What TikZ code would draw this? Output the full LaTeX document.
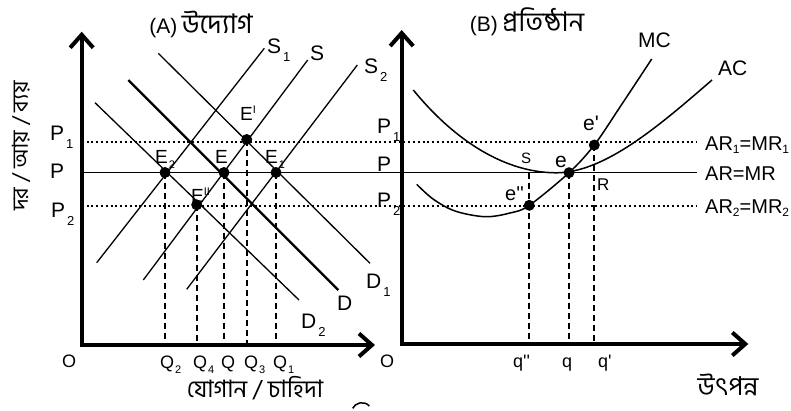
\documentclass[tikz,border=0pt]{standalone}
\usepackage{fontspec}
\setmainfont{Liberation Sans}
\newfontfamily\bn[Script=Bengali]{Hind Siliguri}
\usetikzlibrary{arrows.meta}
\newcommand\fs[1]{\fontsize{#1}{#1}\selectfont}
\newcommand\dsub[1]{\hspace{2pt}\raisebox{-8pt}{\fs{13}#1}}
\newcommand\esub[1]{\hspace{1pt}\raisebox{-5pt}{\fs{11}#1}}
\newcommand\asub[1]{\raisebox{-3pt}{\fs{12}#1}}
\newcommand\sq{\textquotesingle}
\tikzset{
  axis/.style={line width=4pt, {Straight Barb[length=13pt,width=23pt]}-{Straight Barb[length=13pt,width=23pt]}},
  ln/.style={line width=1.3pt},
  thickln/.style={line width=2.2pt},
  crv/.style={line width=1.5pt},
  dotln/.style={line width=2pt, dash pattern=on 2pt off 2.8pt},
  dashv/.style={line width=2pt, dash pattern=on 6pt off 4pt},
  dot/.style={circle, fill=black, inner sep=0pt, minimum size=11pt},
  lab/.style={inner sep=0pt, anchor=base west},
  big/.style={lab, font=\fs{21}},
  mid/.style={lab, font=\fs{19}},
  sml/.style={lab, font=\fs{18}},
  bng/.style={inner sep=0pt, font=\bn\fs{27}}
}
\begin{document}
\begin{tikzpicture}[x=1pt,y=-1pt]
\useasboundingbox (0,0) rectangle (791,410);

% ---------- coordinates ----------
\coordinate (O1) at (81.7,345);
\coordinate (Y1) at (81.7,31.7);
\coordinate (X1) at (375,345);
\coordinate (O2) at (401.7,344);
\coordinate (Y2) at (401.7,30);
\coordinate (X2) at (748.3,344);

\coordinate (P1L) at (81.7,142);  \coordinate (P1R) at (697,142);
\coordinate (PL)  at (81.7,172.5);\coordinate (PR)  at (697,172.5);
\coordinate (P2L) at (81.7,205.5);\coordinate (P2R) at (697,205.5);

\coordinate (S1a) at (96.7,262.7);  \coordinate (S1b) at (264.3,48.3);
\coordinate (Sa)  at (143.3,280);   \coordinate (Sb)  at (307.7,60);
\coordinate (S2a) at (186.7,289.3); \coordinate (S2b) at (357.3,65);
\coordinate (D1a) at (158.3,53.3);  \coordinate (D1b) at (370,263.3);
\coordinate (Da)  at (128.3,80);    \coordinate (Db)  at (338.3,290);
\coordinate (D2a) at (95,102.7);    \coordinate (D2b) at (299,300);

\coordinate (Ep) at (246.7,139.5);
\coordinate (E2p) at (165,172.5);
\coordinate (Ec) at (224,172.5);
\coordinate (E1p) at (276,172.5);
\coordinate (Epp) at (196.7,204.8);

\coordinate (ep) at (594.3,145);
\coordinate (ec) at (569,172.7);
\coordinate (epp) at (529.3,205.3);
\coordinate (Sr) at (529.3,172.5);

% ---------- horizontal price lines ----------
\draw[dotln] (P1L) -- (P1R);
\draw[ln] (PL) -- (PR);
\draw[dotln] (P2L) -- (P2R);

% ---------- supply / demand ----------
\draw[ln] (S1a) -- (S1b);
\draw[ln] (Sa) -- (Sb);
\draw[ln] (S2a) -- (S2b);
\draw[ln] (D1a) -- (D1b);
\draw[thickln] (Da) -- (Db);
\draw[ln] (D2a) -- (D2b);

% ---------- dashed verticals (A) ----------
\draw[dashv] (E2p) -- (E2p |- O1);
\draw[dashv] (Epp) -- (Epp |- O1);
\draw[dashv] (Ec) -- (Ec |- O1);
\draw[dashv] (Ep) -- (Ep |- O1);
\draw[dashv] (E1p) -- (E1p |- O1);

% ---------- curves (B) ----------
\draw[crv] (413.3,90) .. controls (450,135) and (500,172.5) .. (556,172.8)
           .. controls (605,172.8) and (660,125) .. (712,80);
\draw[crv] plot[smooth, tension=0.55] coordinates {(416.7,184.3) (433,199) (455,211) (485,216.7) (510,213) (529.3,205.3) (569,172.7) (594.3,145) (620,107) (651.7,59)};

% ---------- dashed verticals (B) ----------
\draw[dashv] (Sr) -- (Sr |- O2);
\draw[dashv] (ec) -- (ec |- O2);
\draw[dashv] (ep) -- (ep |- O2);

% ---------- axes ----------
\draw[axis] (Y1) -- (O1) -- (X1);
\draw[axis] (Y2) -- (O2) -- (X2);

% ---------- dots ----------
\node[dot] (E2) at (E2p) {};
\node[dot] (E) at (Ec) {};
\node[dot] (E1) at (E1p) {};
\node[dot] (Eprime) at (Ep) {};
\node[dot] (Edprime) at (Epp) {};
\node[dot] (e) at (ec) {};
\node[dot] (eprime) at (ep) {};
\node[dot] (edprime) at (epp) {};

% ---------- labels (A) ----------
\node[bng] (titleA) at (201,24) {{\normalfont\fs{21}(A)}\,উদ্যোগ};
\node[bng, rotate=90, font=\bn\fs{22}] (ylab) at (21,146) {দর / আয় / ব্যয়};
\node[bng, font=\bn\fs{24}, anchor=base] (xlab) at (255,397) {যোগান / চাহিদা};

\node[big] (lP1) at (50,140) {P\dsub{1}};
\node[big] (lP) at (50,178) {P};
\node[big] (lP2) at (51,217) {P\dsub{2}};

\node[big] (lS1) at (267,53) {S\dsub{1}};
\node[big] (lS) at (310,60) {S};
\node[big] (lS2) at (364,73) {S\dsub{2}};
\node[big] (lD1) at (366,288) {D\dsub{1}};
\node[big] (lD) at (337,310) {D};
\node[big] (lD2) at (301,328) {D\dsub{2}};

\node[mid] (lE2) at (155,163) {E\esub{2}};
\node[mid] (lE) at (215,163) {E};
\node[mid] (lE1) at (265,163) {E\esub{1}};
\node[mid] (lEpp) at (191,202) {E\raisebox{7pt}{\fs{11}II}};
\node[mid] (lEp) at (240,120) {E\raisebox{7pt}{\fs{11}I}};

\node[sml] (lO1) at (62,367) {O};
\node[sml] (lQ2) at (160,368) {Q\esub{2}};
\node[sml] (lQ4) at (193,368) {Q\esub{4}};
\node[sml] (lQ) at (221,368) {Q};
\node[sml] (lQ3) at (244,368) {Q\esub{3}};
\node[sml] (lQ1) at (273,368) {Q\esub{1}};

% ---------- labels (B) ----------
\node[bng] (titleB) at (527,22) {{\normalfont\fs{21}(B)}\,প্রতিষ্ঠান};
\node[bng, font=\bn\fs{26}] (outlab) at (728,385) {উৎপন্ন};

\node[big] (rP1) at (377,133) {P\dsub{1}};
\node[big] (rP) at (377,171) {P};
\node[big] (rP2) at (377,207) {P\dsub{2}};
\node[sml] (lO2) at (380,367) {O};

\node[big] (lMC) at (638,47) {MC};
\node[big] (lAC) at (718,75) {AC};
\node[lab, font=\fs{21}] (lep) at (583,130) {e\sq};
\node[lab, font=\fs{21}] (le) at (555,167) {e};
\node[lab, font=\fs{20}] (lepp) at (505,200) {e\sq\sq};
\node[lab, font=\fs{15}] (lSr) at (521,163) {S};
\node[lab, font=\fs{17}] (lR) at (597,190) {R};

\node[lab, font=\fs{20}] (ar1) at (705,150) {AR\asub{1}=MR\asub{1}};
\node[lab, font=\fs{20}] (ar) at (705,180) {AR=MR};
\node[lab, font=\fs{20}] (ar2) at (705,213) {AR\asub{2}=MR\asub{2}};

\node[sml] (lqpp) at (513,367) {q\sq\sq};
\node[sml] (lq) at (562,367) {q};
\node[sml] (lqp) at (598,367) {q\sq};

% fragment at bottom edge
\draw[line width=1.5pt] (352.7,408.3) .. controls (355,403) and (364,400) .. (369.3,406);
\end{tikzpicture}
\end{document}
